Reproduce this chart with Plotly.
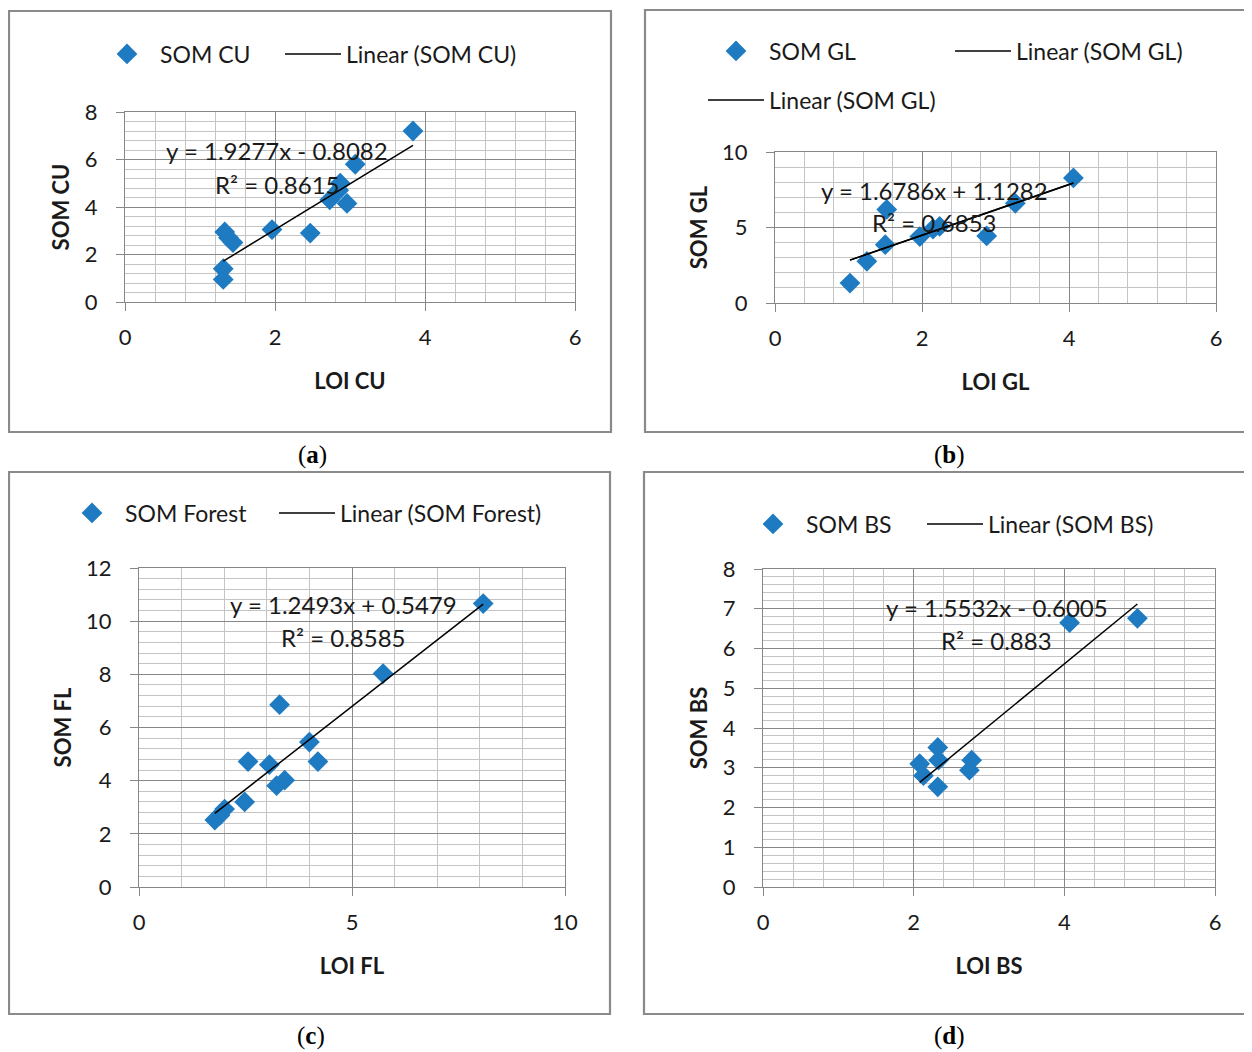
import plotly.graph_objects as go

# page body has an 8px margin; the figure is sized to fill the rest of the window
OFF = 8
W, H = 1252 - OFF, 1052 - OFF

# ---------------- data ----------------
cu_loi = [3.84, 3.07, 2.87, 2.85, 2.73, 2.96, 2.47, 1.96, 1.33, 1.38, 1.44, 1.31, 1.31]
cu_som = [7.20, 5.80, 5.00, 4.70, 4.30, 4.15, 2.90, 3.05, 2.95, 2.70, 2.50, 1.40, 0.95]

gl_loi = [4.06, 3.27, 1.52, 2.24, 2.15, 1.97, 2.88, 1.50, 1.25, 1.02]
gl_som = [8.28, 6.60, 6.20, 5.07, 4.90, 4.40, 4.44, 3.86, 2.76, 1.32]

fl_loi = [8.08, 5.73, 3.30, 4.00, 4.20, 2.56, 3.06, 3.42, 3.23, 2.48, 2.01, 1.78, 1.90]
fl_som = [10.66, 8.03, 6.86, 5.45, 4.72, 4.72, 4.60, 4.02, 3.81, 3.20, 2.93, 2.52, 2.70]

bs_loi = [4.97, 4.07, 2.32, 2.33, 2.08, 2.13, 2.32, 2.77, 2.74]
bs_som = [6.76, 6.65, 3.51, 3.19, 3.10, 2.80, 2.52, 3.19, 2.94]

slopes = [1.9277, 1.6786, 1.2493, 1.5532]
intercepts = [-0.8082, 1.1282, 0.5479, -0.6005]
equations = ["y = 1.9277x - 0.8082", "y = 1.6786x + 1.1282",
             "y = 1.2493x + 0.5479", "y = 1.5532x - 0.6005"]
r2_labels = ["R² = 0.8615", "R² = 0.6853", "R² = 0.8585", "R² = 0.883"]
series_names = ["SOM CU", "SOM GL", "SOM Forest", "SOM BS"]
x_titles = ["LOI CU", "LOI GL", "LOI FL", "LOI BS"]
y_titles = ["SOM CU", "SOM GL", "SOM FL", "SOM BS"]
captions = ["a", "b", "c", "d"]

xs = [cu_loi, gl_loi, fl_loi, bs_loi]
ys = [cu_som, gl_som, fl_som, bs_som]

# ---------------- layout geometry (page pixels) ----------------
areas = [(125, 575, 112, 302), (775, 1216, 152, 303),
         (139, 565, 568, 887), (763, 1215, 569, 887)]
xranges = [(0, 6), (0, 6), (0, 10), (0, 6)]
yranges = [(0, 8), (0, 10), (0, 12), (0, 8)]
xdt = [2, 2, 5, 2]
ydt = [2, 5, 2, 1]
xminor = [0.4, 0.4, 1, 0.4]
yminor = [0.4, 1, 0.4, 0.2]
frames = [(9, 611, 11, 432), (645, 1262, 10, 432), (9, 610, 472, 1014), (644, 1262, 472, 1014)]
caption_pos = [(312, 455), (949, 455), (311, 1036), (949, 1036)]
eq_pos = [(2.03, 6.36, 4.93), (2.17, 7.48, 5.30), (4.79, 10.63, 9.38), (3.10, 7.02, 6.21)]
ITEMW = 56
legend_marker_pos = [(94, 54), (703, 51), (59, 513), (740, 524)]
legend_line_pos = [(280, 54), (950, 51), (274, 513), (922, 524)]
legend_extra_pos = (703, 100)

BLUE = "#1f7bc1"
MAJ = "#878787"
MIN = "#c4c4c4"
FONT = "Lato, 'Open Sans', sans-serif"
TXT = "#1a1a1a"

fig = go.Figure()
layout = dict(width=W, height=H, margin=dict(l=0, r=0, t=0, b=0, autoexpand=False),
              paper_bgcolor="white", plot_bgcolor="white", showlegend=True,
              font=dict(family=FONT, size=22, color=TXT))


def px(x):
    return (x - OFF) / W


def py(y):
    return 1 - (y - OFF) / H


def add_legend(name, x, y):
    layout[name] = dict(x=px(x), y=py(y), xanchor="left", yanchor="middle",
                        orientation="h", bgcolor="rgba(0,0,0,0)", itemwidth=ITEMW,
                        font=dict(family=FONT, size=23, color=TXT),
                        xref="paper", yref="paper")


leg_idx = 1
for i in range(4):
    xa = "x" if i == 0 else f"x{i+1}"
    ya = "y" if i == 0 else f"y{i+1}"
    l, r, t, b = areas[i]
    ax_common = dict(showline=True, linecolor=MAJ, linewidth=1.3, mirror=True,
                     ticks="outside", ticklen=8, tickcolor=MAJ, tickwidth=1.3,
                     showgrid=True, gridcolor=MAJ, gridwidth=1.3, zeroline=False,
                     automargin=False,
                     tickfont=dict(family=FONT, size=22, color=TXT))
    layout["xaxis" if i == 0 else f"xaxis{i+1}"] = dict(
        ax_common, domain=[px(l), px(r)], range=list(xranges[i]), dtick=xdt[i], tick0=0,
        anchor=ya, ticklabelstandoff=7,
        minor=dict(dtick=xminor[i], showgrid=True, gridcolor=MIN, gridwidth=1.2),
        title=dict(text=x_titles[i], standoff=25,
                   font=dict(family=FONT, size=22, weight="bold", color=TXT)))
    layout["yaxis" if i == 0 else f"yaxis{i+1}"] = dict(
        ax_common, domain=[py(b), py(t)], range=list(yranges[i]), dtick=ydt[i], tick0=0,
        anchor=xa, ticklabelstandoff=14,
        minor=dict(dtick=yminor[i], showgrid=True, gridcolor=MIN, gridwidth=1.2),
        title=dict(text=y_titles[i], standoff=8,
                   font=dict(family=FONT, size=22, weight="bold", color=TXT)))

    lg_m = "legend" if leg_idx == 1 else f"legend{leg_idx}"
    leg_idx += 1
    lg_l = f"legend{leg_idx}"
    leg_idx += 1
    add_legend(lg_m, *legend_marker_pos[i])
    add_legend(lg_l, *legend_line_pos[i])

    fig.add_trace(go.Scatter(x=xs[i], y=ys[i], mode="markers", name=series_names[i],
                             xaxis=xa, yaxis=ya, legend=lg_m,
                             marker=dict(symbol="diamond", size=16, color=BLUE)))
    tx = [min(xs[i]), max(xs[i])]
    ty = [slopes[i] * v + intercepts[i] for v in tx]
    fig.add_trace(go.Scatter(x=tx, y=ty, mode="lines", name=f"Linear ({series_names[i]})",
                             xaxis=xa, yaxis=ya, legend=lg_l,
                             line=dict(color="black", width=1.5)))
    if i == 1:
        lg_x = f"legend{leg_idx}"
        leg_idx += 1
        add_legend(lg_x, *legend_extra_pos)
        fig.add_trace(go.Scatter(x=tx, y=ty, mode="lines", name=f"Linear ({series_names[i]})",
                                 xaxis=xa, yaxis=ya, legend=lg_x,
                                 line=dict(color="black", width=1.5)))

annotations = []
for i in range(4):
    xa = "x" if i == 0 else f"x{i+1}"
    ya = "y" if i == 0 else f"y{i+1}"
    ex, ey1, ey2 = eq_pos[i]
    annotations.append(dict(x=ex, y=ey1, xref=xa, yref=ya, text=equations[i], showarrow=False,
                            xanchor="center", yanchor="middle",
                            font=dict(family=FONT, size=24, color=TXT)))
    annotations.append(dict(x=ex, y=ey2, xref=xa, yref=ya, text=r2_labels[i], showarrow=False,
                            xanchor="center", yanchor="middle",
                            font=dict(family=FONT, size=24, color=TXT)))
    cx, cy = caption_pos[i]
    annotations.append(dict(x=px(cx), y=py(cy), xref="paper", yref="paper",
                            xanchor="center", yanchor="middle",
                            text=f"(<b>{captions[i]}</b>)", showarrow=False,
                            font=dict(family="Liberation Serif, serif", size=25, color="black")))
layout["annotations"] = annotations

shapes = []
for (l, r, t, b) in frames:
    shapes.append(dict(type="rect", xref="paper", yref="paper",
                       x0=px(l), x1=px(r), y0=py(b), y1=py(t),
                       line=dict(color="#8a8a8a", width=2.2), layer="below"))
layout["shapes"] = shapes

fig.update_layout(**layout)
fig.write_html("out.html")
